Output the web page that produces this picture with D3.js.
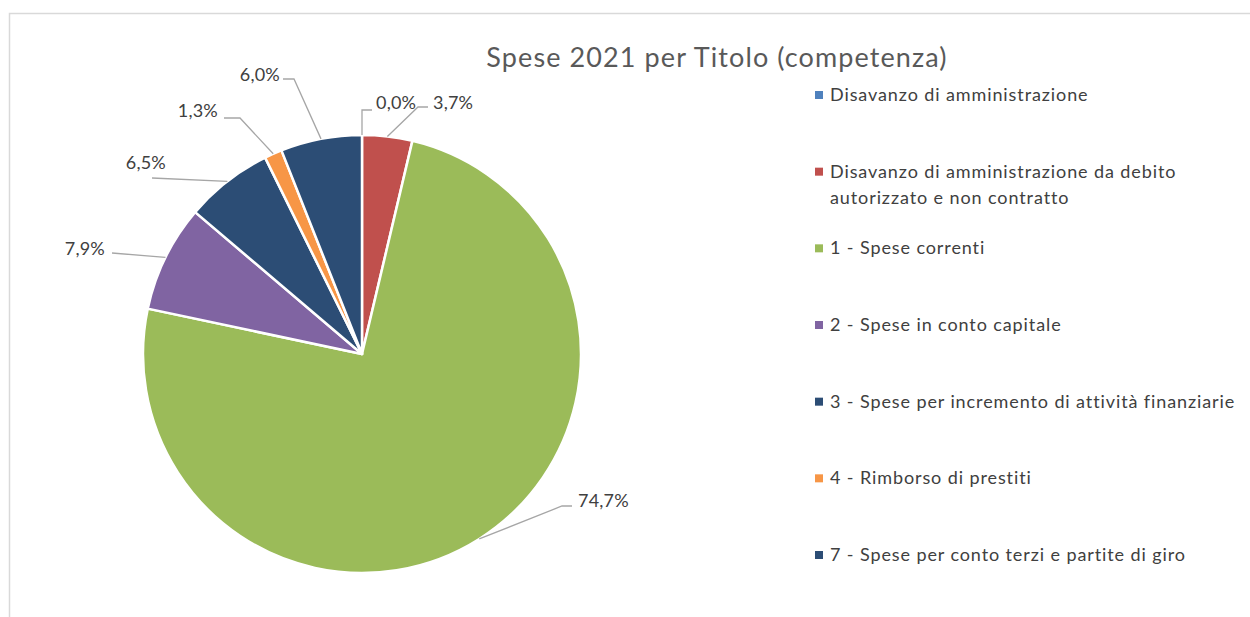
<!DOCTYPE html>
<html>
<head>
<meta charset="utf-8">
<script src="https://cdn.jsdelivr.net/npm/d3@7"></script>
<style>
  body { margin: 0; background: #fff; }
  text { font-family: Lato, "Noto Sans", sans-serif; }
</style>
</head>
<body>
<svg id="chart"></svg>
<script>
// chart data
let categories = [
    'Disavanzo di amministrazione',
    'Disavanzo di amministrazione da debito autorizzato e non contratto',
    '1 - Spese correnti',
    '2 - Spese in conto capitale',
    '3 - Spese per incremento di attività finanziarie',
    '4 - Rimborso di prestiti',
    '7 - Spese per conto terzi e partite di giro'
]
let values = [0.0, 3.7, 74.7, 7.9, 6.5, 1.3, 6.0]
let labels = ['0,0%', '3,7%', '74,7%', '7,9%', '6,5%', '1,3%', '6,0%']

// legend text split in lines as in the picture
let legendLines = [
    ['Disavanzo di amministrazione'],
    ['Disavanzo di amministrazione da debito', 'autorizzato e non contratto'],
    ['1 - Spese correnti'],
    ['2 - Spese in conto capitale'],
    ['3 - Spese per incremento di attività finanziarie'],
    ['4 - Rimborso di prestiti'],
    ['7 - Spese per conto terzi e partite di giro']
]

let colors = ['#4F81BD', '#C0504D', '#9BBB59', '#8064A2', '#2C4D75', '#F79646', '#2C4D75']

// size of the board
let width = 1250
let height = 617
let cx = 362
let cy = 354
let radius = 219

// where each data label sits (text anchor) and the bend of its leader line
let labelLayout = [
    {x: 376, y: 109, anchor: 'start', bend: [[362, 110], [372, 110]]},
    {x: 433, y: 109, anchor: 'start', bend: [[418, 107], [428, 107]]},
    {x: 578, y: 507, anchor: 'start', bend: [[562, 506], [572, 506]]},
    {x: 105, y: 255, anchor: 'end', bend: [[112, 253]]},
    {x: 166, y: 169, anchor: 'end', bend: [[152, 178]]},
    {x: 218, y: 117, anchor: 'end', bend: [[240, 118], [224, 118]]},
    {x: 280, y: 81, anchor: 'end', bend: [[294, 79], [283, 79]]}
]

let svg = d3.select('#chart')
    .attr('width', width)
    .attr('height', height)

// chart frame
svg.append('rect')
    .attr('x', 9.5)
    .attr('y', 13.5)
    .attr('width', width + 20)
    .attr('height', height + 20)
    .attr('fill', 'none')
    .attr('stroke', '#d9d9d9')
    .attr('stroke-width', 1.5)

svg.append('text')
    .attr('x', 717)
    .attr('y', 67)
    .attr('text-anchor', 'middle')
    .attr('fill', '#595959')
    .style('font-size', '27px')
    .style('letter-spacing', '1.1px')
    .text('Spese 2021 per Titolo (competenza)')

let pie = d3.pie()
    .sort(null)
    .value((d) => d)

let arcs = pie(values)

let arc = d3.arc()
    .innerRadius(0)
    .outerRadius(radius)

let edgeArc = d3.arc()
    .innerRadius(radius)
    .outerRadius(radius)

let g = svg.append('g')
    .attr('transform', 'translate(' + cx + ',' + cy + ')')

g.selectAll('path.slice')
    .data(arcs)
    .enter()
    .append('path')
    .attr('class', 'slice')
    .attr('d', arc)
    .attr('fill', (d, i) => colors[i])
    .attr('stroke', '#fff')
    .attr('stroke-width', 2.5)
    .attr('stroke-linejoin', 'round')

// leader lines from the slice edge to the label
let line = d3.line()
svg.selectAll('path.leader')
    .data(arcs)
    .enter()
    .append('path')
    .attr('class', 'leader')
    .attr('d', (d, i) => {
        let p = edgeArc.centroid(d)
        let start = [cx + p[0], cy + p[1]]
        return line([start].concat(labelLayout[i].bend))
    })
    .attr('fill', 'none')
    .attr('stroke', '#a6a6a6')
    .attr('stroke-width', 1.3)

svg.selectAll('text.label')
    .data(labels)
    .enter()
    .append('text')
    .attr('class', 'label')
    .attr('x', (d, i) => labelLayout[i].x)
    .attr('y', (d, i) => labelLayout[i].y)
    .attr('text-anchor', (d, i) => labelLayout[i].anchor)
    .attr('fill', '#404040')
    .style('font-size', '18px')
    .style('letter-spacing', '0.2px')
    .text((d) => d)

// legend
let legendY = d3.scalePoint()
    .domain(categories)
    .range([101, 561])

let legend = svg.selectAll('g.legend')
    .data(categories)
    .enter()
    .append('g')
    .attr('class', 'legend')
    .attr('transform', (d) => 'translate(815,' + legendY(d) + ')')

legend.append('rect')
    .attr('x', 0)
    .attr('y', -10)
    .attr('width', 8)
    .attr('height', 8)
    .attr('fill', (d, i) => colors[i])

legend.append('text')
    .attr('x', 15)
    .attr('fill', '#404040')
    .style('font-size', '18px')
    .style('letter-spacing', '0.9px')
    .selectAll('tspan')
    .data((d, i) => legendLines[i])
    .enter()
    .append('tspan')
    .attr('x', 15)
    .attr('y', (d, j) => j * 26)
    .text((d) => d)
</script>
</body>
</html>
